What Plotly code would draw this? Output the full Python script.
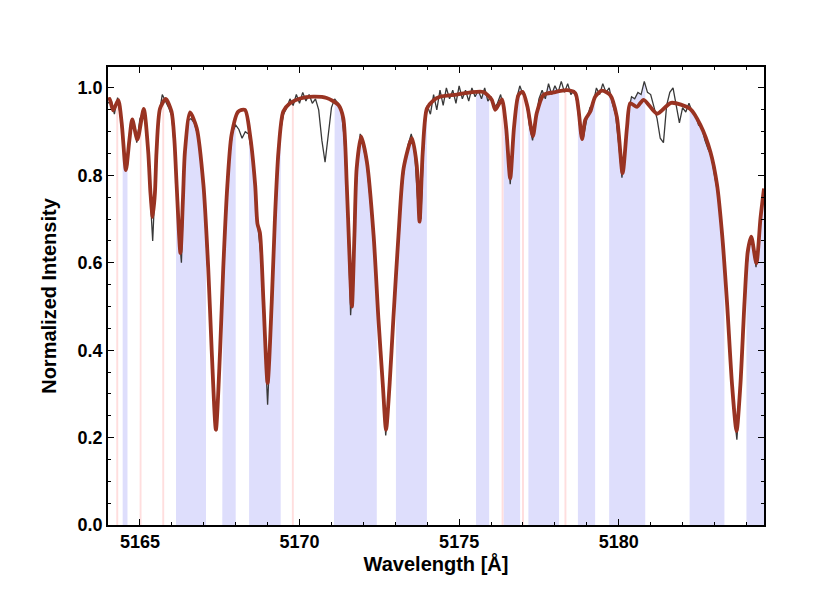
import numpy as np
import plotly.graph_objects as go

# ---------------- data ----------------
# model spectrum (knots), wavelength in Angstrom
model_wave = [5164.00, 5164.05, 5164.16, 5164.32, 5164.43, 5164.56, 5164.67, 5164.76, 5164.92, 5165.12,
              5165.26, 5165.33, 5165.40, 5165.47, 5165.52, 5165.63, 5165.81, 5165.99, 5166.08, 5166.15,
              5166.27, 5166.35, 5166.41, 5166.57, 5166.78, 5166.99, 5167.14, 5167.25, 5167.38, 5167.51,
              5167.61, 5167.74, 5167.87, 5168.08, 5168.29, 5168.45, 5168.61, 5168.68, 5168.76, 5168.87,
              5169.00, 5169.13, 5169.23, 5169.34, 5169.49, 5169.70, 5170.02, 5170.43, 5170.85, 5171.22,
              5171.37, 5171.48, 5171.56, 5171.64, 5171.72, 5171.79, 5171.93, 5172.11, 5172.32, 5172.47,
              5172.61, 5172.71, 5172.82, 5172.94, 5173.10, 5173.26, 5173.52, 5173.67, 5173.76, 5173.86,
              5173.99, 5174.20, 5174.40, 5174.93, 5175.35, 5175.76, 5176.02, 5176.13, 5176.23, 5176.34,
              5176.47, 5176.60, 5176.72, 5176.86, 5176.99, 5177.14, 5177.31, 5177.43, 5177.64, 5177.96,
              5178.38, 5178.64, 5178.74, 5178.85, 5178.95, 5179.11, 5179.26, 5179.47, 5179.73, 5179.94,
              5180.12, 5180.26, 5180.36, 5180.57, 5180.78, 5181.20, 5181.64, 5182.24, 5182.56, 5182.87,
              5183.08, 5183.24, 5183.39, 5183.55, 5183.69, 5183.81, 5183.94, 5184.04, 5184.15, 5184.31,
              5184.44, 5184.55]
model_flux = [0.972, 0.975, 0.949, 0.972, 0.919, 0.812, 0.881, 0.928, 0.882, 0.952,
              0.854, 0.760, 0.705, 0.760, 0.854, 0.953, 0.975, 0.946, 0.880, 0.778,
              0.622, 0.750, 0.854, 0.944, 0.908, 0.778, 0.587, 0.397, 0.218, 0.397,
              0.587, 0.778, 0.892, 0.946, 0.950, 0.892, 0.778, 0.690, 0.668, 0.511,
              0.325, 0.511, 0.702, 0.854, 0.946, 0.965, 0.976, 0.980, 0.977, 0.961,
              0.931, 0.778, 0.625, 0.500, 0.663, 0.816, 0.889, 0.831, 0.663, 0.473,
              0.320, 0.218, 0.320, 0.473, 0.663, 0.816, 0.885, 0.824, 0.694, 0.854,
              0.953, 0.972, 0.980, 0.985, 0.990, 0.991, 0.973, 0.950, 0.961, 0.974,
              0.911, 0.793, 0.911, 0.984, 0.991, 0.957, 0.890, 0.942, 0.984, 0.990,
              0.995, 0.988, 0.950, 0.883, 0.927, 0.946, 0.980, 0.994, 0.984, 0.934,
              0.805, 0.911, 0.965, 0.957, 0.973, 0.941, 0.966, 0.952, 0.915, 0.854,
              0.778, 0.663, 0.511, 0.320, 0.215, 0.320, 0.511, 0.625, 0.660, 0.599,
              0.702, 0.770]

# observed spectrum, sampled every 0.1 A starting at 5164.0
obs_start = 5164.0
obs_step = 0.1
obs_flux = [
    0.965, 0.972, 0.940, 0.978, 0.930, 0.845, 0.815, 0.905, 0.925, 0.875,  # 5164
    0.930, 0.945, 0.915, 0.780, 0.650, 0.815, 0.940, 0.985, 0.970, 0.955,  # 5165
    0.935, 0.845, 0.690, 0.600, 0.835, 0.925, 0.930, 0.920, 0.895, 0.845,  # 5166
    0.765, 0.635, 0.475, 0.295, 0.215, 0.375, 0.565, 0.725, 0.835, 0.900,  # 5167
    0.915, 0.905, 0.885, 0.900, 0.895, 0.855, 0.780, 0.680, 0.610, 0.440,  # 5168
    0.275, 0.445, 0.640, 0.795, 0.900, 0.940, 0.955, 0.975, 0.960, 0.985,  # 5169
    0.965, 0.990, 0.970, 0.985, 0.965, 0.975, 0.950, 0.880, 0.830, 0.890,  # 5170
    0.955, 0.975, 0.965, 0.955, 0.885, 0.735, 0.480, 0.600, 0.815, 0.895,  # 5171
    0.865, 0.830, 0.755, 0.675, 0.560, 0.435, 0.325, 0.205, 0.295, 0.415,  # 5172
    0.545, 0.660, 0.765, 0.830, 0.870, 0.895, 0.860, 0.745, 0.700, 0.895,  # 5173
    0.960, 0.940, 0.985, 0.950, 0.995, 0.960, 1.000, 0.975, 0.995, 0.965,  # 5174
    1.005, 0.975, 0.995, 0.970, 1.000, 0.980, 0.995, 0.975, 1.000, 0.970,  # 5175
    0.980, 0.955, 0.965, 0.985, 0.950, 0.870, 0.780, 0.885, 0.975, 1.005,  # 5176
    0.985, 0.975, 0.915, 0.880, 0.925, 0.975, 0.995, 0.975, 1.010, 0.985,  # 5177
    1.005, 0.990, 1.015, 0.990, 1.010, 0.985, 0.995, 0.965, 0.895, 0.890,  # 5178
    0.930, 0.955, 0.965, 1.000, 0.985, 1.010, 0.990, 1.000, 0.965, 0.940,  # 5179
    0.870, 0.795, 0.865, 0.945, 0.980, 0.975, 0.990, 0.985, 1.015, 0.990,  # 5180
    0.985, 0.960, 0.930, 0.885, 0.875, 0.960, 0.990, 1.000, 0.955, 0.920,  # 5181
    0.955, 0.945, 0.965, 0.945, 0.940, 0.915, 0.910, 0.880, 0.860, 0.845,  # 5182
    0.800, 0.760, 0.690, 0.595, 0.495, 0.375, 0.265, 0.195, 0.305, 0.445,  # 5183
    0.580, 0.650, 0.645, 0.590, 0.660, 0.745,                              # 5184
]

# fitting masks (wavelength intervals)
mask_start = [5164.46, 5166.13, 5167.58, 5168.42, 5171.08, 5173.02, 5175.53,
              5176.39, 5177.17, 5178.72, 5179.70, 5182.22, 5184.00]
mask_end = [5164.61, 5167.07, 5168.00, 5169.41, 5172.42, 5173.99, 5175.94,
            5176.91, 5178.13, 5179.26, 5180.83, 5183.31, 5184.55]
# narrow excluded pixels
line_centers = [5164.29, 5165.02, 5165.73, 5169.79, 5176.36, 5177.00, 5178.33]
line_halfwidth = 0.03

x_range = [5164.0, 5184.55]
y_range = [0.0, 1.048]

# ---------------- figure ----------------
obs_wave = obs_start + obs_step * np.arange(len(obs_flux))
obs_flux_arr = np.array(obs_flux)


def band_polys(starts, ends):
    xs, ys = [], []
    for a, b in zip(starts, ends):
        inside = (obs_wave > a) & (obs_wave < b)
        px = [a, a] + list(obs_wave[inside]) + [b, b]
        py = ([0.0, float(np.interp(a, obs_wave, obs_flux_arr))] + list(obs_flux_arr[inside]) +
              [float(np.interp(b, obs_wave, obs_flux_arr)), 0.0])
        xs += px + [None]
        ys += py + [None]
    return xs, ys


fig = go.Figure()

bx, by = band_polys(mask_start, mask_end)
fig.add_trace(go.Scatter(x=bx, y=by, mode="lines", fill="toself",
                         fillcolor="rgb(222,222,252)", line=dict(width=0),
                         hoverinfo="skip", showlegend=False))

px, py = band_polys([c - line_halfwidth for c in line_centers],
                    [c + line_halfwidth for c in line_centers])
fig.add_trace(go.Scatter(x=px, y=py, mode="lines", fill="toself",
                         fillcolor="rgb(255,222,222)", line=dict(width=0),
                         hoverinfo="skip", showlegend=False))

fig.add_trace(go.Scatter(x=obs_wave, y=obs_flux_arr, mode="lines",
                         line=dict(color="#383838", width=1.3),
                         showlegend=False))

fig.add_trace(go.Scatter(x=model_wave, y=model_flux, mode="lines",
                         line=dict(color="#993322", width=3.8, shape="spline", smoothing=0.7),
                         showlegend=False))

font_family = "Liberation Sans, Arial, sans-serif"
axis_common = dict(
    showline=True, linecolor="black", linewidth=1.5, mirror="allticks",
    ticks="inside", ticklen=6, tickwidth=1.3, tickcolor="black",
    showgrid=False, zeroline=False,
    tickfont=dict(family=font_family, size=18, color="black", weight="bold"),
)

fig.update_xaxes(
    range=x_range, tick0=5165, dtick=5,
    minor=dict(ticks="inside", tick0=5164, dtick=1, ticklen=3, tickcolor="black", tickwidth=1.2, showgrid=False),
    title=dict(text="Wavelength [Å]", font=dict(family=font_family, size=20, color="black", weight="bold"),
               standoff=6),
    **axis_common,
)
fig.update_yaxes(
    range=y_range, tick0=0, dtick=0.2, tickformat=".1f",
    minor=dict(ticks="inside", tick0=0, dtick=0.05, ticklen=3, tickcolor="black", tickwidth=1.2, showgrid=False),
    title=dict(text="Normalized Intensity", font=dict(family=font_family, size=20, color="black", weight="bold"),
               standoff=16),
    **axis_common,
)

fig.update_layout(
    width=830, height=604,
    margin=dict(l=100, r=74, t=59, b=87),
    plot_bgcolor="white", paper_bgcolor="white",
    showlegend=False,
)

fig.write_html("out.html")
